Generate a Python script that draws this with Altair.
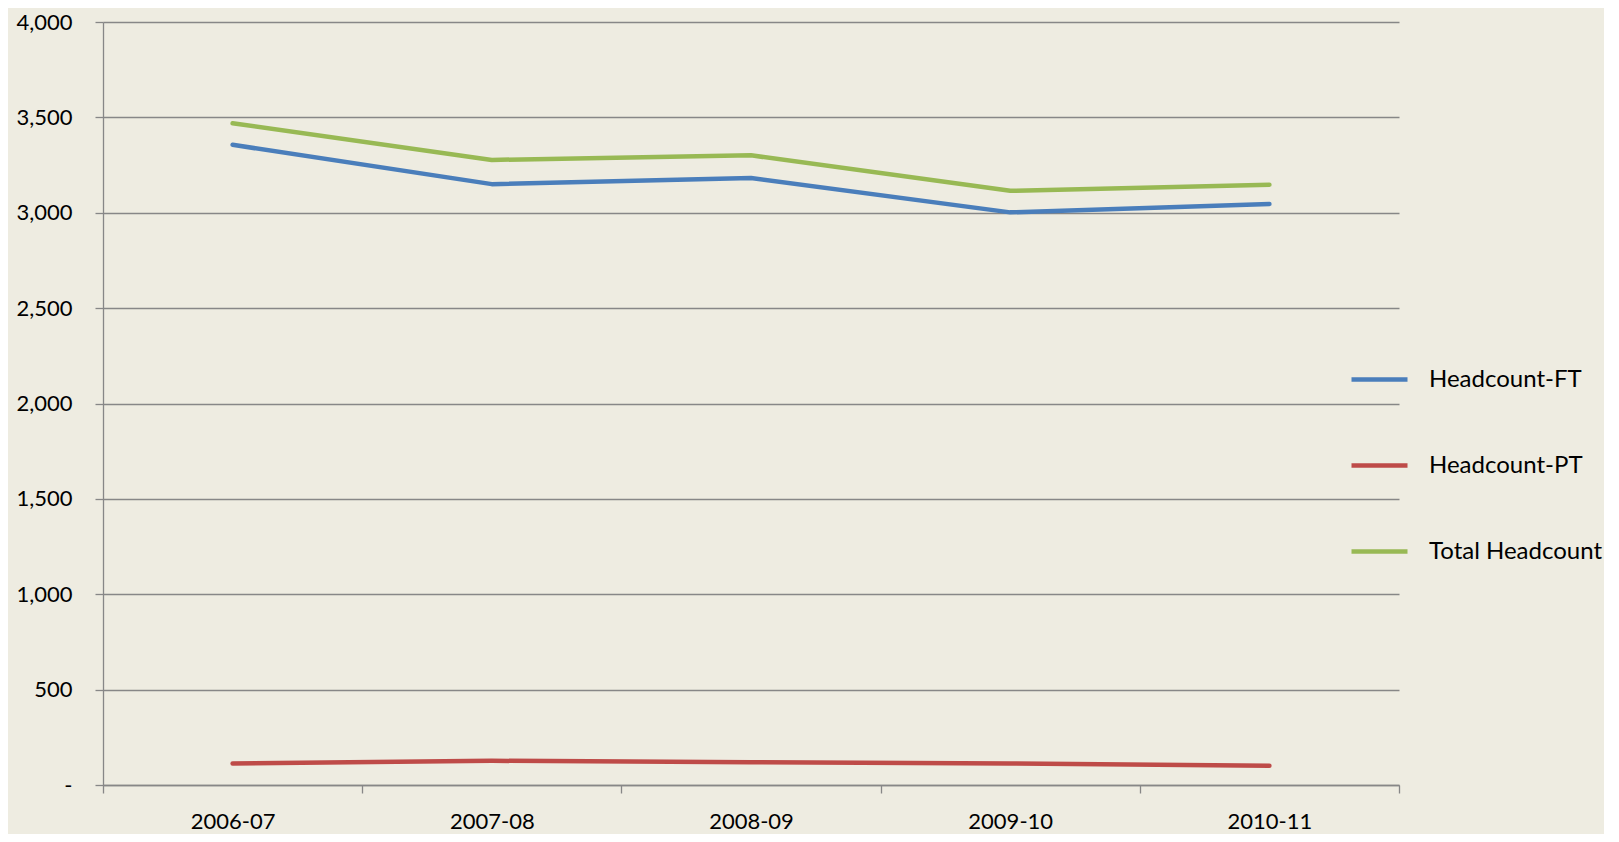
import altair as alt
import pandas as pd

years = ["2006-07", "2007-08", "2008-09", "2009-10", "2010-11"]
headcount_ft = [3356, 3150, 3182, 3002, 3046]
headcount_pt = [113, 127, 119, 113, 101]
total_headcount = [3469, 3277, 3301, 3115, 3147]
series = ["Headcount-FT", "Headcount-PT", "Total Headcount"]
colors = ["#4A7EBB", "#BE4B48", "#98B954"]
y_ticks = [0, 500, 1000, 1500, 2000, 2500, 3000, 3500, 4000]

rows = []
for s, vals in zip(series, [headcount_ft, headcount_pt, total_headcount]):
    for yr, v in zip(years, vals):
        rows.append({"Year": yr, "Series": s, "Value": v})
df = pd.DataFrame(rows)

FONT = "Lato"
GRID = "#878787"
W, H = 1296, 763

chart = alt.Chart(df).mark_line(
    strokeWidth=4.5, strokeCap="round", strokeJoin="round"
).encode(
    x=alt.X(
        "Year:N",
        sort=years,
        bandPosition=0.5,
        scale=alt.Scale(type="band", paddingInner=0, paddingOuter=0),
        axis=alt.Axis(
            title=None,
            labelAngle=0,
            tickBand="extent",
            tickSize=8,
            tickColor=GRID,
            tickWidth=1.3,
            domainColor=GRID,
            domainWidth=1.3,
            labelPadding=18,
            labelFont=FONT,
            labelFontSize=22,
            labelColor="#000000",
            grid=False,
        ),
    ),
    y=alt.Y(
        "Value:Q",
        scale=alt.Scale(domain=[0, 4000], nice=False),
        axis=alt.Axis(
            title=None,
            values=y_ticks,
            labelExpr="datum.value == 0 ? '-' : format(datum.value, ',')",
            tickSize=8,
            tickColor=GRID,
            tickWidth=1.3,
            domainColor=GRID,
            domainWidth=1.3,
            grid=True,
            gridColor=GRID,
            gridWidth=1.3,
            labelPadding=23,
            labelFont=FONT,
            labelFontSize=22,
            labelColor="#000000",
        ),
    ),
    color=alt.Color(
        "Series:N",
        sort=series,
        scale=alt.Scale(domain=series, range=colors),
        legend=alt.Legend(
            title=None,
            orient="none",
            legendX=1246,
            legendY=327,
            symbolType="stroke",
            symbolSize=3136,
            symbolStrokeWidth=4.5,
            labelFont=FONT,
            labelFontSize=24,
            labelColor="#000000",
            labelOffset=19,
            labelLimit=400,
            rowPadding=43,
            padding=0,
        ),
    ),
).properties(
    width=W,
    height=H,
    background="#EEECE1",
    autosize=alt.AutoSizeParams(type="none"),
    padding={"left": 95, "top": 14, "right": 205, "bottom": 49},
).configure_view(stroke=None)

chart.save("out.html", embed_options={"renderer": "svg", "actions": False})
